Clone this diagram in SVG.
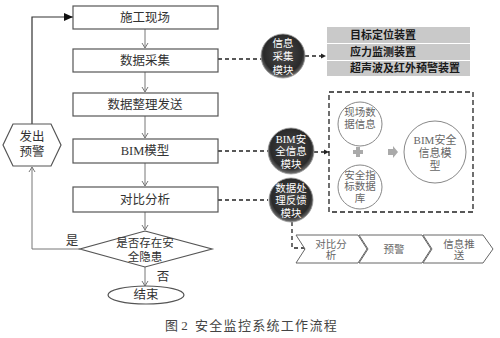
<svg xmlns="http://www.w3.org/2000/svg" width="500" height="338" viewBox="0 0 500 338">
<style>
.box{fill:#fff;stroke:#555;stroke-width:1.2}
.t{font-family:"Liberation Serif","Noto Sans CJK SC",serif;font-size:12.5px;fill:#333;text-anchor:middle;dominant-baseline:central}
.w{font-family:"Liberation Serif","Noto Sans CJK SC",serif;font-size:10.5px;fill:#fff;text-anchor:middle;dominant-baseline:central}
.g{font-family:"Liberation Serif","Noto Sans CJK SC",serif;font-size:10.5px;fill:#666;text-anchor:middle;dominant-baseline:central}
.b{font-family:"Liberation Serif","Noto Sans CJK SC",serif;font-size:11px;fill:#1a1a1a;font-weight:bold;dominant-baseline:central}
.ln{fill:none;stroke:#777;stroke-width:1}
.dash{fill:none;stroke:#222;stroke-width:1.3;stroke-dasharray:4,3}
.wc{fill:#fff;stroke:#888;stroke-width:1}
.chev{fill:#fff;stroke:#666;stroke-width:1}
</style>
<defs>
<radialGradient id="dk" cx="50%" cy="45%" r="55%">
<stop offset="0" stop-color="#4a4a4a"/>
<stop offset="0.8" stop-color="#2a2a2a"/>
<stop offset="1" stop-color="#777"/>
</radialGradient>
<marker id="ag" markerWidth="8" markerHeight="8" refX="6" refY="4" orient="auto" markerUnits="userSpaceOnUse">
<path d="M1,1 L6,4 L1,7" fill="none" stroke="#777" stroke-width="1"/>
</marker>
<marker id="ab" markerWidth="10" markerHeight="10" refX="9" refY="5" orient="auto" markerUnits="userSpaceOnUse">
<path d="M0,1 L9,5 L0,9 Z" fill="#111"/>
</marker>
<marker id="ad" markerWidth="6" markerHeight="6" refX="5" refY="3" orient="auto" markerUnits="userSpaceOnUse">
<path d="M0,0.5 L5,3 L0,5.5 Z" fill="#222"/>
</marker>
</defs>

<g id="connectors">
<line class="ln" x1="145" y1="29" x2="145" y2="48" marker-end="url(#ag)"/>
<line class="ln" x1="145" y1="72" x2="145" y2="92" marker-end="url(#ag)"/>
<line class="ln" x1="145" y1="116" x2="145" y2="138" marker-end="url(#ag)"/>
<line class="ln" x1="145" y1="163" x2="145" y2="186" marker-end="url(#ag)"/>
<line class="ln" x1="145" y1="212" x2="145" y2="230" marker-end="url(#ag)"/>
<line class="ln" x1="145" y1="267" x2="145" y2="286" marker-end="url(#ag)"/>
<polyline class="ln" points="80,249 32,249 32,167" marker-end="url(#ag)"/>
<polyline fill="none" stroke="#333" stroke-width="1.2" points="32,124 32,17 73,17" marker-end="url(#ab)"/>
<line class="dash" x1="218" y1="59" x2="262" y2="59"/>
<line class="dash" x1="305" y1="56" x2="326" y2="56" marker-end="url(#ad)"/>
<line class="dash" x1="218" y1="151" x2="268" y2="151"/>
<line class="dash" x1="314" y1="152" x2="329" y2="152" marker-end="url(#ad)"/>
<line class="dash" x1="218" y1="200" x2="268" y2="200"/>
<polyline class="dash" points="292,222 292,248 309,248" marker-end="url(#ad)"/>
<text class="t" x="72" y="241">是</text>
<text class="t" x="163" y="277">否</text>
</g>

<g id="n-site"><rect class="box" x="73" y="6" width="145" height="23"/><text class="t" x="145" y="17.5">施工现场</text></g>
<g id="n-collect"><rect class="box" x="73" y="49" width="145" height="23"/><text class="t" x="145" y="60.5">数据采集</text></g>
<g id="n-send"><rect class="box" x="73" y="93" width="145" height="23"/><text class="t" x="145" y="104.5">数据整理发送</text></g>
<g id="n-bim"><rect class="box" x="73" y="139" width="145" height="24"/><text class="t" x="145" y="151">BIM模型</text></g>
<g id="n-compare"><rect class="box" x="73" y="187" width="145" height="25"/><text class="t" x="145" y="199.5">对比分析</text></g>
<g id="n-decision"><polygon class="box" points="145,231 212,249 145,267 80,249"/><text class="t" x="145" y="243" style="font-size:11.5px">是否存在安</text><text class="t" x="145" y="257" style="font-size:11.5px">全隐患</text></g>
<g id="n-end"><ellipse class="box" cx="146" cy="295" rx="38" ry="9"/><text class="t" x="146" y="295">结束</text></g>
<g id="n-warn"><polygon class="box" points="3,145 13,124 51,124 61,145 51,166 13,166"/><text class="t" x="32" y="137">发出</text><text class="t" x="32" y="152">预警</text></g>

<g id="n-m1"><circle cx="283" cy="56" r="22" fill="url(#dk)" stroke="#999" stroke-width="0.8"/><text class="w" x="283" y="43">信息</text><text class="w" x="283" y="56.5">采集</text><text class="w" x="283" y="70">模块</text></g>
<g id="n-m2"><circle cx="291" cy="151" r="23" fill="url(#dk)" stroke="#999" stroke-width="0.8"/><text class="w" x="291" y="139">BIM安</text><text class="w" x="291" y="151.5">全信息</text><text class="w" x="291" y="164">模块</text></g>
<g id="n-m3"><circle cx="291" cy="200" r="22" fill="url(#dk)" stroke="#999" stroke-width="0.8"/><text class="w" x="291" y="188">数据处</text><text class="w" x="291" y="200.5">理反馈</text><text class="w" x="291" y="213">模块</text></g>

<g id="n-devices">
<rect x="327" y="27" width="143" height="16" fill="#c9c9c9"/>
<rect x="327" y="44" width="143" height="16" fill="#c9c9c9"/>
<rect x="327" y="61" width="143" height="15" fill="#c9c9c9"/>
<text class="b" x="350" y="35">目标定位装置</text>
<text class="b" x="350" y="52">应力监测装置</text>
<text class="b" x="350" y="68">超声波及红外预警装置</text>
</g>

<g id="n-bimbox">
<rect x="329" y="92" width="144" height="120" fill="none" stroke="#222" stroke-width="1.3" stroke-dasharray="5,3"/>
<circle class="wc" cx="360" cy="124" r="22"/><text class="g" x="360" y="112">现场数</text><text class="g" x="360" y="124">据信息</text>
<circle class="wc" cx="360" cy="187" r="22"/><text class="g" x="360" y="175">安全指</text><text class="g" x="360" y="186.5">标数据</text><text class="g" x="360" y="198">库</text>
<path d="M356,147 h4 v3 h3 v4 h-3 v3 h-4 v-3 h-3 v-4 h3 z" fill="#aaa"/>
<path d="M388,149 h5 v-3 l5,6 l-5,6 v-3 h-5 z" fill="#aaa"/>
<circle class="wc" cx="435" cy="152" r="31"/><text class="g" x="435" y="140" style="font-size:11px">BIM安全</text><text class="g" x="435" y="153" style="font-size:11px">信息模</text><text class="g" x="435" y="166" style="font-size:11px">型</text>
</g>

<g id="n-chevrons">
<polygon class="chev" points="296,235 358,235 367,249 358,263 296,263 305,249"/>
<polygon class="chev" points="359,235 422,235 431,249 422,263 359,263 368,249"/>
<polygon class="chev" points="423,235 483,235 493,249 483,263 423,263 432,249"/>
<text class="g" x="331" y="244">对比分</text><text class="g" x="331" y="255">析</text>
<text class="g" x="394" y="249">预警</text>
<text class="g" x="459" y="244">信息推</text><text class="g" x="459" y="255">送</text>
</g>

<g id="caption" style="font-family:'Liberation Serif','Noto Sans CJK SC',serif;font-size:13px;fill:#444">
<text x="165" y="325" dominant-baseline="central">图 2</text>
<text x="195" y="325" dominant-baseline="central" letter-spacing="1.3">安全监控系统工作流程</text>
</g>
</svg>
